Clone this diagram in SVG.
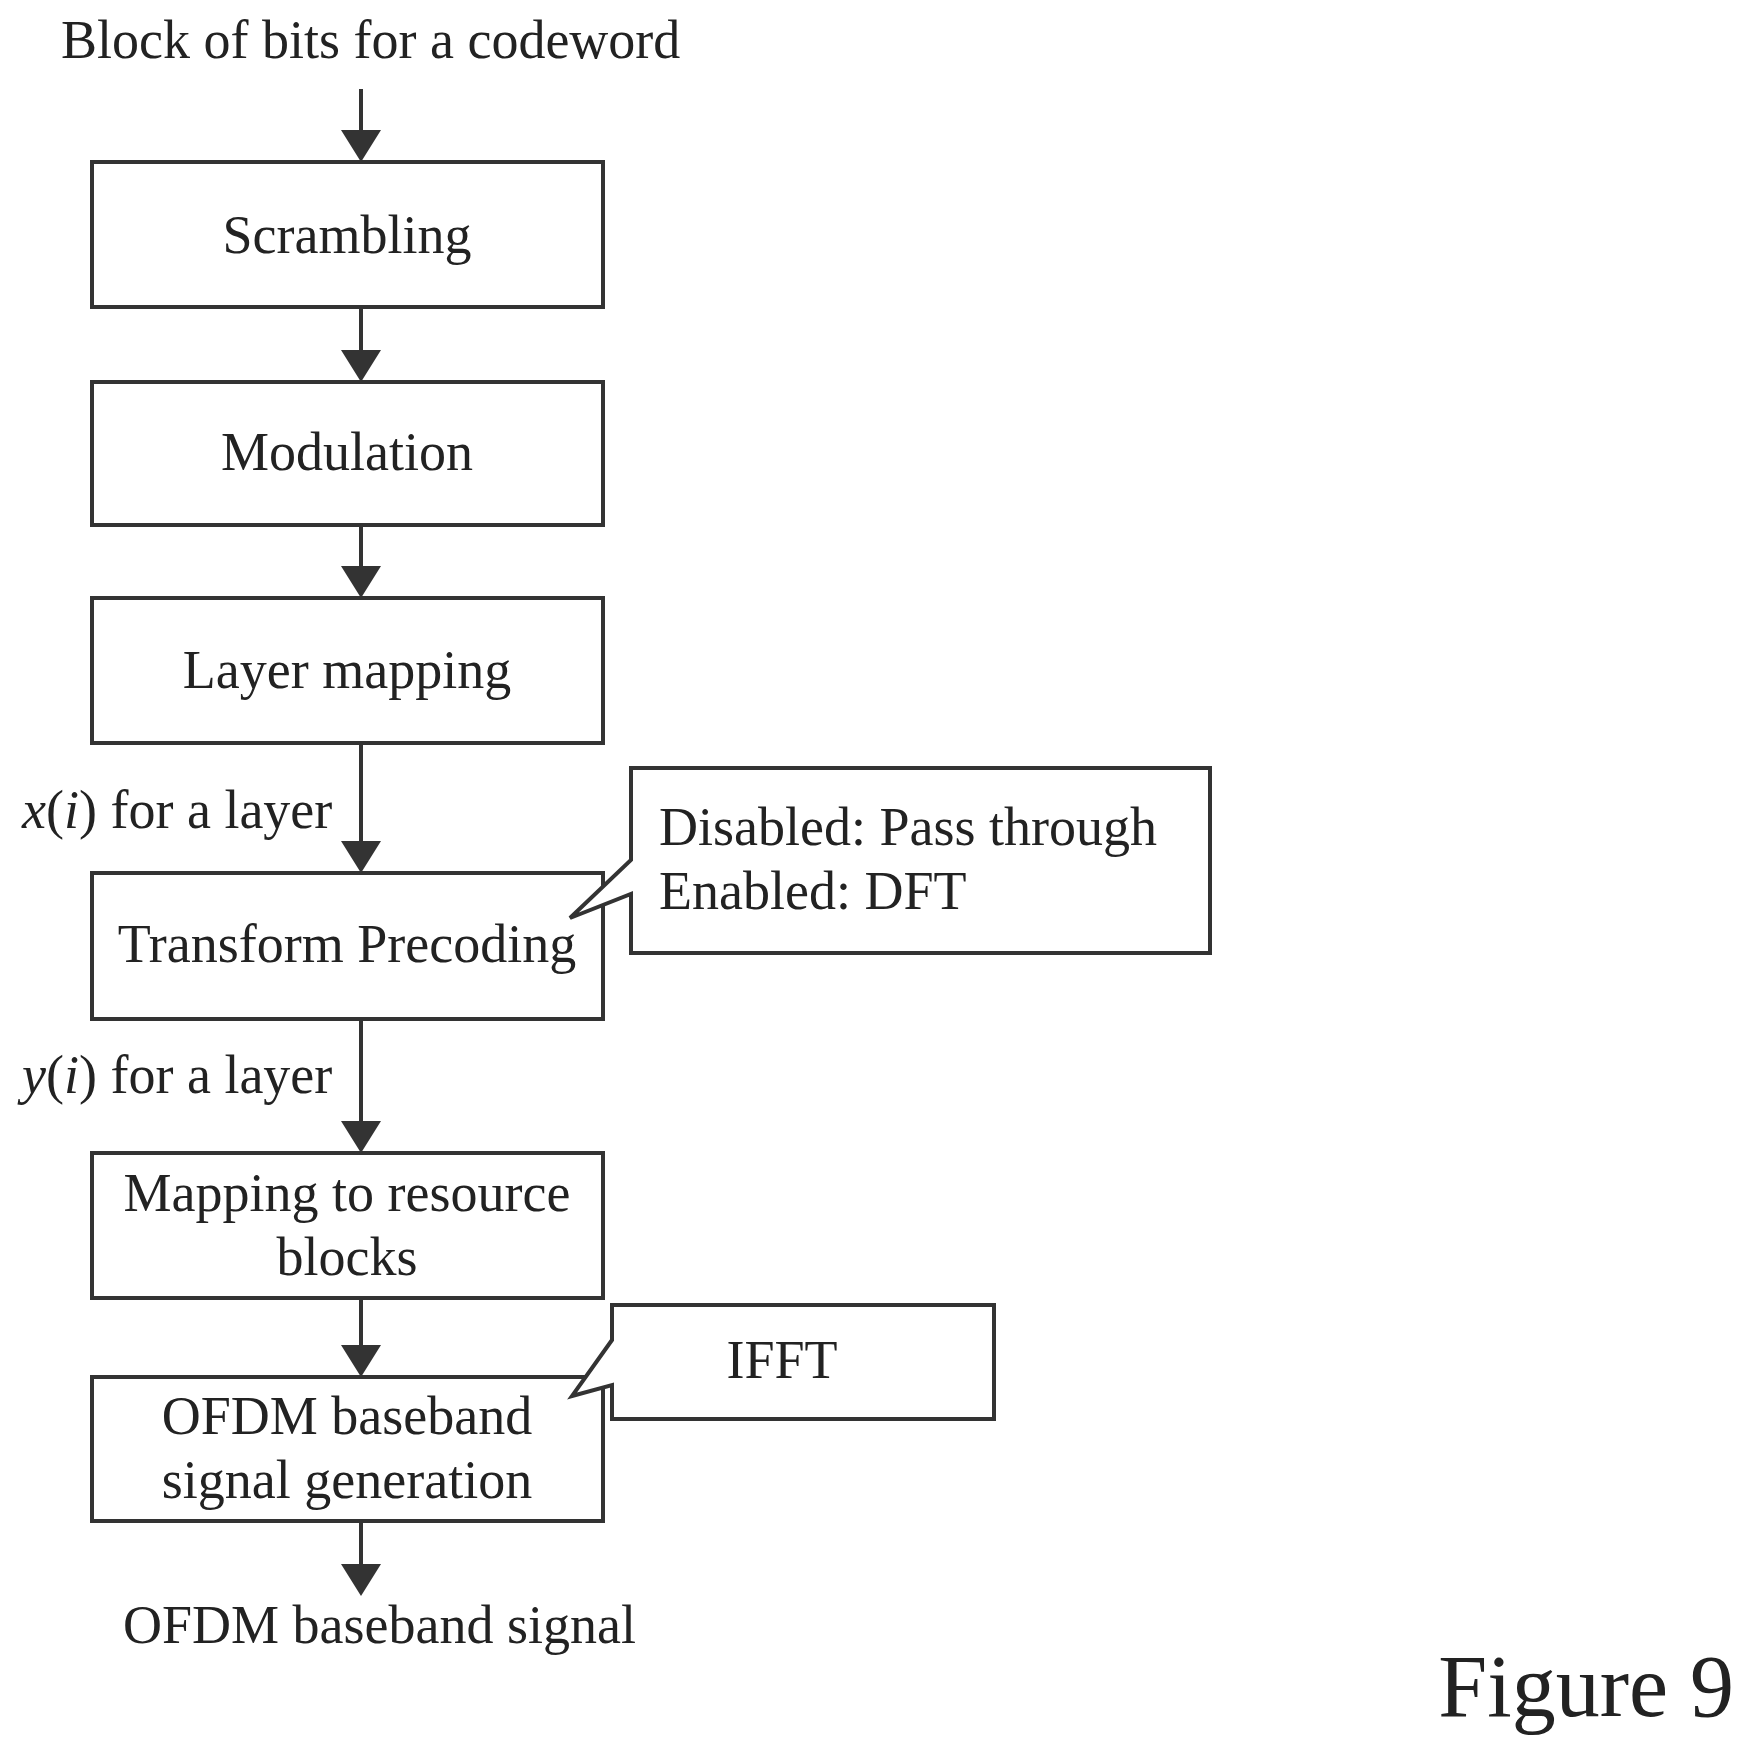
<svg xmlns="http://www.w3.org/2000/svg" width="1743" height="1738" viewBox="0 0 1743 1738">
<defs>
<style>
text{font-family:"Liberation Serif","Times New Roman",serif;font-size:54px;fill:#222}
.c{text-anchor:middle}
.box{fill:#fff;stroke:#333;stroke-width:4}
.ln{stroke:#333;stroke-width:4;fill:none}
</style>
<marker id="ah" markerWidth="8" markerHeight="10" refX="7" refY="5" orient="auto" markerUnits="strokeWidth"><path d="M0,0 L8,5 L0,10 z" fill="#333"/></marker>
</defs>
<rect width="1743" height="1738" fill="#fff"/>
<text x="61" y="58">Block of bits for a codeword</text>
<g id="connectors">
<line class="ln" x1="361" y1="89" x2="361" y2="158" marker-end="url(#ah)"/>
<line class="ln" x1="361" y1="307" x2="361" y2="378" marker-end="url(#ah)"/>
<line class="ln" x1="361" y1="525" x2="361" y2="594" marker-end="url(#ah)"/>
<line class="ln" x1="361" y1="743" x2="361" y2="869" marker-end="url(#ah)"/>
<line class="ln" x1="361" y1="1019" x2="361" y2="1149" marker-end="url(#ah)"/>
<line class="ln" x1="361" y1="1298" x2="361" y2="1373" marker-end="url(#ah)"/>
<line class="ln" x1="361" y1="1521" x2="361" y2="1592" marker-end="url(#ah)"/>
</g>
<g id="scrambling"><rect class="box" x="92" y="162" width="511" height="145"/><text class="c" x="347" y="253">Scrambling</text></g>
<g id="modulation"><rect class="box" x="92" y="382" width="511" height="143"/><text class="c" x="347" y="470">Modulation</text></g>
<g id="layer-mapping"><rect class="box" x="92" y="598" width="511" height="145"/><text class="c" x="347" y="688">Layer mapping</text></g>
<g id="transform-precoding"><rect class="box" x="92" y="873" width="511" height="146"/><text class="c" x="347" y="962">Transform Precoding</text></g>
<g id="mapping-rb"><rect class="box" x="92" y="1153" width="511" height="145"/><text class="c" x="347" y="1211">Mapping to resource</text><text class="c" x="347" y="1275">blocks</text></g>
<g id="ofdm-gen"><rect class="box" x="92" y="1377" width="511" height="144"/><text class="c" x="347" y="1434">OFDM baseband</text><text class="c" x="347" y="1498">signal generation</text></g>
<g id="callout-dft"><path class="box" d="M631,768 H1210 V953 H631 V894 L570,918 L631,860 Z"/><text x="659" y="845">Disabled: Pass through</text><text x="659" y="909">Enabled: DFT</text></g>
<g id="callout-ifft"><path class="box" d="M612,1305 H994 V1419 H612 V1385 L572,1396 L612,1340 Z"/><text class="c" x="782" y="1378">IFFT</text></g>
<text x="22" y="828"><tspan font-style="italic">x</tspan>(<tspan font-style="italic">i</tspan>) for a layer</text>
<text x="22" y="1093"><tspan font-style="italic">y</tspan>(<tspan font-style="italic">i</tspan>) for a layer</text>
<text x="123" y="1643">OFDM baseband signal</text>
<text x="1734" y="1716" style="font-size:88px;text-anchor:end">Figure 9</text>
</svg>
